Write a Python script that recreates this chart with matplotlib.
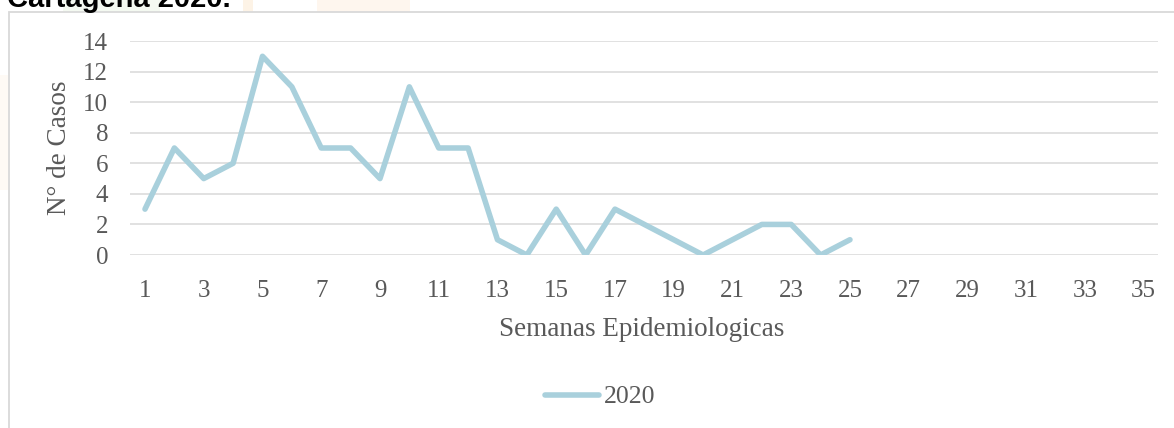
import matplotlib
matplotlib.use("Agg")
import matplotlib.pyplot as plt
from matplotlib.patches import Rectangle

# weekly cases, Cartagena 2020
weeks = list(range(1, 26))
cases = [3, 7, 5, 6, 13, 11, 7, 7, 5, 11, 7, 7, 1, 0, 3, 0, 3, 2, 1, 0, 1, 2, 2, 0, 1]
x_ticks = list(range(1, 36, 2))
y_ticks = list(range(0, 15, 2))
series_name = "2020"

W, H = 1174, 428
fig = plt.figure(figsize=(W / 100, H / 100), dpi=100)
fig.patch.set_facecolor("white")

def fx(px):
    return px / W

def fy(py):
    return 1 - py / H

# faint watermark patches behind the chart
fig.patches.append(Rectangle((fx(63), fy(12)), fx(97), 12 / H, transform=fig.transFigure,
                             facecolor="#f4f9f1", edgecolor="none", zorder=0))
fig.patches.append(Rectangle((fx(243), fy(12)), fx(10), 12 / H, transform=fig.transFigure,
                             facecolor="#fdf3e6", edgecolor="none", zorder=0))
fig.patches.append(Rectangle((fx(317), fy(12)), fx(93), 12 / H, transform=fig.transFigure,
                             facecolor="#fef6ee", edgecolor="none", zorder=0))
fig.patches.append(Rectangle((0, fy(190)), fx(8), 115 / H, transform=fig.transFigure,
                             facecolor="#fefaf5", edgecolor="none", zorder=0))

# chart area border (cut off at right and bottom)
fig.patches.append(Rectangle((fx(8.5), -0.05), 1.1, fy(12) + 0.05, transform=fig.transFigure,
                             facecolor="none", edgecolor="#d9d9d9", linewidth=1.3, zorder=1))

fig.text(fx(7), fy(7), "Cartagena 2020.", fontsize=21, fontweight="bold",
         family="Liberation Sans", color="black", va="baseline", ha="left")

ax = fig.add_axes([fx(130.3), fy(255), fx(1158.4 - 130.3), (255 - 41) / H])
ax.set_facecolor("none")
ax.plot(weeks, cases, color="#a9d0dc", linewidth=4, solid_joinstyle="round",
        solid_capstyle="round", label=series_name, zorder=3)

ax.set_xlim(0.5, 35.5)
ax.set_ylim(0, 14)
ax.set_xticks(x_ticks)
ax.set_yticks(y_ticks)
ax.grid(axis="y", color="#d9d9d9", linewidth=1.1)
ax.set_axisbelow(True)
for s in ax.spines.values():
    s.set_visible(False)
ax.tick_params(length=0)
ax.tick_params(axis="x", pad=18)
ax.tick_params(axis="y", pad=16)

tick_font = dict(family="Liberation Serif", size=18, color="#595959")
for lab in ax.get_xticklabels() + ax.get_yticklabels():
    lab.set_fontfamily(tick_font["family"])
    lab.set_fontsize(tick_font["size"])
    lab.set_color(tick_font["color"])

label_font = dict(family="Liberation Serif", size=19.5, color="#595959")
fig.text(fx(642), fy(329), "Semanas Epidemiologicas", ha="center", va="center", **label_font)
fig.text(fx(59), fy(148), "N° de Casos", ha="center", va="center", rotation=90, **label_font)

leg = fig.legend(loc="center", bbox_to_anchor=(fx(600), fy(397)), frameon=False,
                 prop={"family": "Liberation Serif", "size": 18.5}, handlelength=2.1,
                 handletextpad=0.2)
for t in leg.get_texts():
    t.set_color("#595959")

fig.savefig("out.png", dpi=100)
